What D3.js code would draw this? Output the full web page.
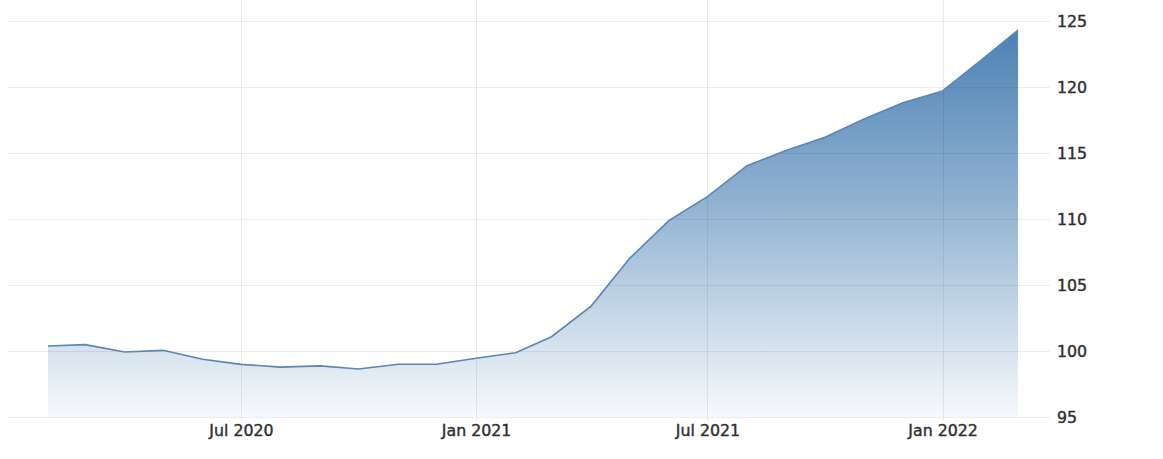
<!DOCTYPE html>
<html>
<head>
<meta charset="utf-8">
<script src="https://cdn.jsdelivr.net/npm/d3@7"></script>
<style>
  html, body { margin: 0; padding: 0; background: #fff; }
  svg { display: block; }
  .axis text { font-family: "DejaVu Sans", Verdana, sans-serif; font-size: 15.8px; font-weight: normal; fill: #2e2e2e; stroke: #2e2e2e; stroke-width: 0.4px; }
</style>
</head>
<body>
<svg id="chart" width="1163" height="459"></svg>
<script>
// Monthly data, Feb 2020 .. Mar 2022
const months = ["2020-02","2020-03","2020-04","2020-05","2020-06","2020-07","2020-08","2020-09","2020-10","2020-11","2020-12",
                "2021-01","2021-02","2021-03","2021-04","2021-05","2021-06","2021-07","2021-08","2021-09","2021-10","2021-11","2021-12",
                "2022-01","2022-02","2022-03"];
const values = [100.38, 100.48, 99.92, 100.05, 99.37, 98.99, 98.78, 98.87, 98.64, 99.0, 99.0,
                99.45, 99.87, 101.08, 103.4, 107.0, 109.9, 111.7, 114.04, 115.2, 116.2, 117.6, 118.8,
                119.7, 122.1, 124.3];
const xTickDates = ["2020-07","2021-01","2021-07","2022-01"];
const xTickLabels = ["Jul 2020","Jan 2021","Jul 2021","Jan 2022"];
const yTicks = [95, 100, 105, 110, 115, 120, 125];

const parse = d3.timeParse("%Y-%m");
const data = months.map((m, i) => ({ date: parse(m), value: values[i] }));

const svg = d3.select("#chart");
const x = d3.scaleTime().domain([parse("2020-02"), parse("2022-03")]).range([48, 1018]);
const y = d3.scaleLinear().domain([95, 125]).range([417, 21]);

const defs = svg.append("defs");
const grad = defs.append("linearGradient").attr("id", "areaGrad")
  .attr("gradientUnits", "userSpaceOnUse")
  .attr("x1", 0).attr("y1", y(125)).attr("x2", 0).attr("y2", y(95));
grad.append("stop").attr("offset", "0%").attr("stop-color", "#4a7fb3");
grad.append("stop").attr("offset", "45%").attr("stop-color", "#8fb1d1");
grad.append("stop").attr("offset", "100%").attr("stop-color", "#f7f9fc");

// area
const area = d3.area().x(d => x(d.date)).y0(y(95)).y1(d => y(d.value));
svg.append("path").datum(data).attr("d", area).attr("fill", "url(#areaGrad)");

// horizontal gridlines
svg.append("g").selectAll("line").data(yTicks).join("line")
  .attr("x1", 8).attr("x2", 1050)
  .attr("y1", d => y(d) + 0.5).attr("y2", d => y(d) + 0.5)
  .attr("stroke", "#000").attr("stroke-opacity", 0.07).attr("stroke-width", 1);

// vertical gridlines
svg.append("g").selectAll("line").data(xTickDates).join("line")
  .attr("x1", d => Math.round(x(parse(d))) + 0.5).attr("x2", d => Math.round(x(parse(d))) + 0.5)
  .attr("y1", 0).attr("y2", 421)
  .attr("stroke", "#000").attr("stroke-opacity", 0.07).attr("stroke-width", 1);

// line
const line = d3.line().x(d => x(d.date)).y(d => y(d.value));
svg.append("path").datum(data).attr("d", line)
  .attr("fill", "none").attr("stroke", "#5a86b3").attr("stroke-width", 1.6);

// y axis (right)
const yAxis = d3.axisRight(y).tickValues(yTicks).tickSize(0).tickPadding(0).tickFormat(d3.format("d"));
const gy = svg.append("g").attr("class", "axis").attr("transform", "translate(1057,0)").call(yAxis);
gy.select(".domain").remove();
gy.selectAll("text").attr("dy", "0.35em");

// x axis
const xAxis = d3.axisBottom(x).tickValues(xTickDates.map(parse)).tickSize(0).tickPadding(0)
  .tickFormat((d, i) => xTickLabels[i]);
const gx = svg.append("g").attr("class", "axis").attr("transform", "translate(0,425)").call(xAxis);
gx.select(".domain").remove();
gx.selectAll("text").attr("dy", "0.71em");
</script>
</body>
</html>
